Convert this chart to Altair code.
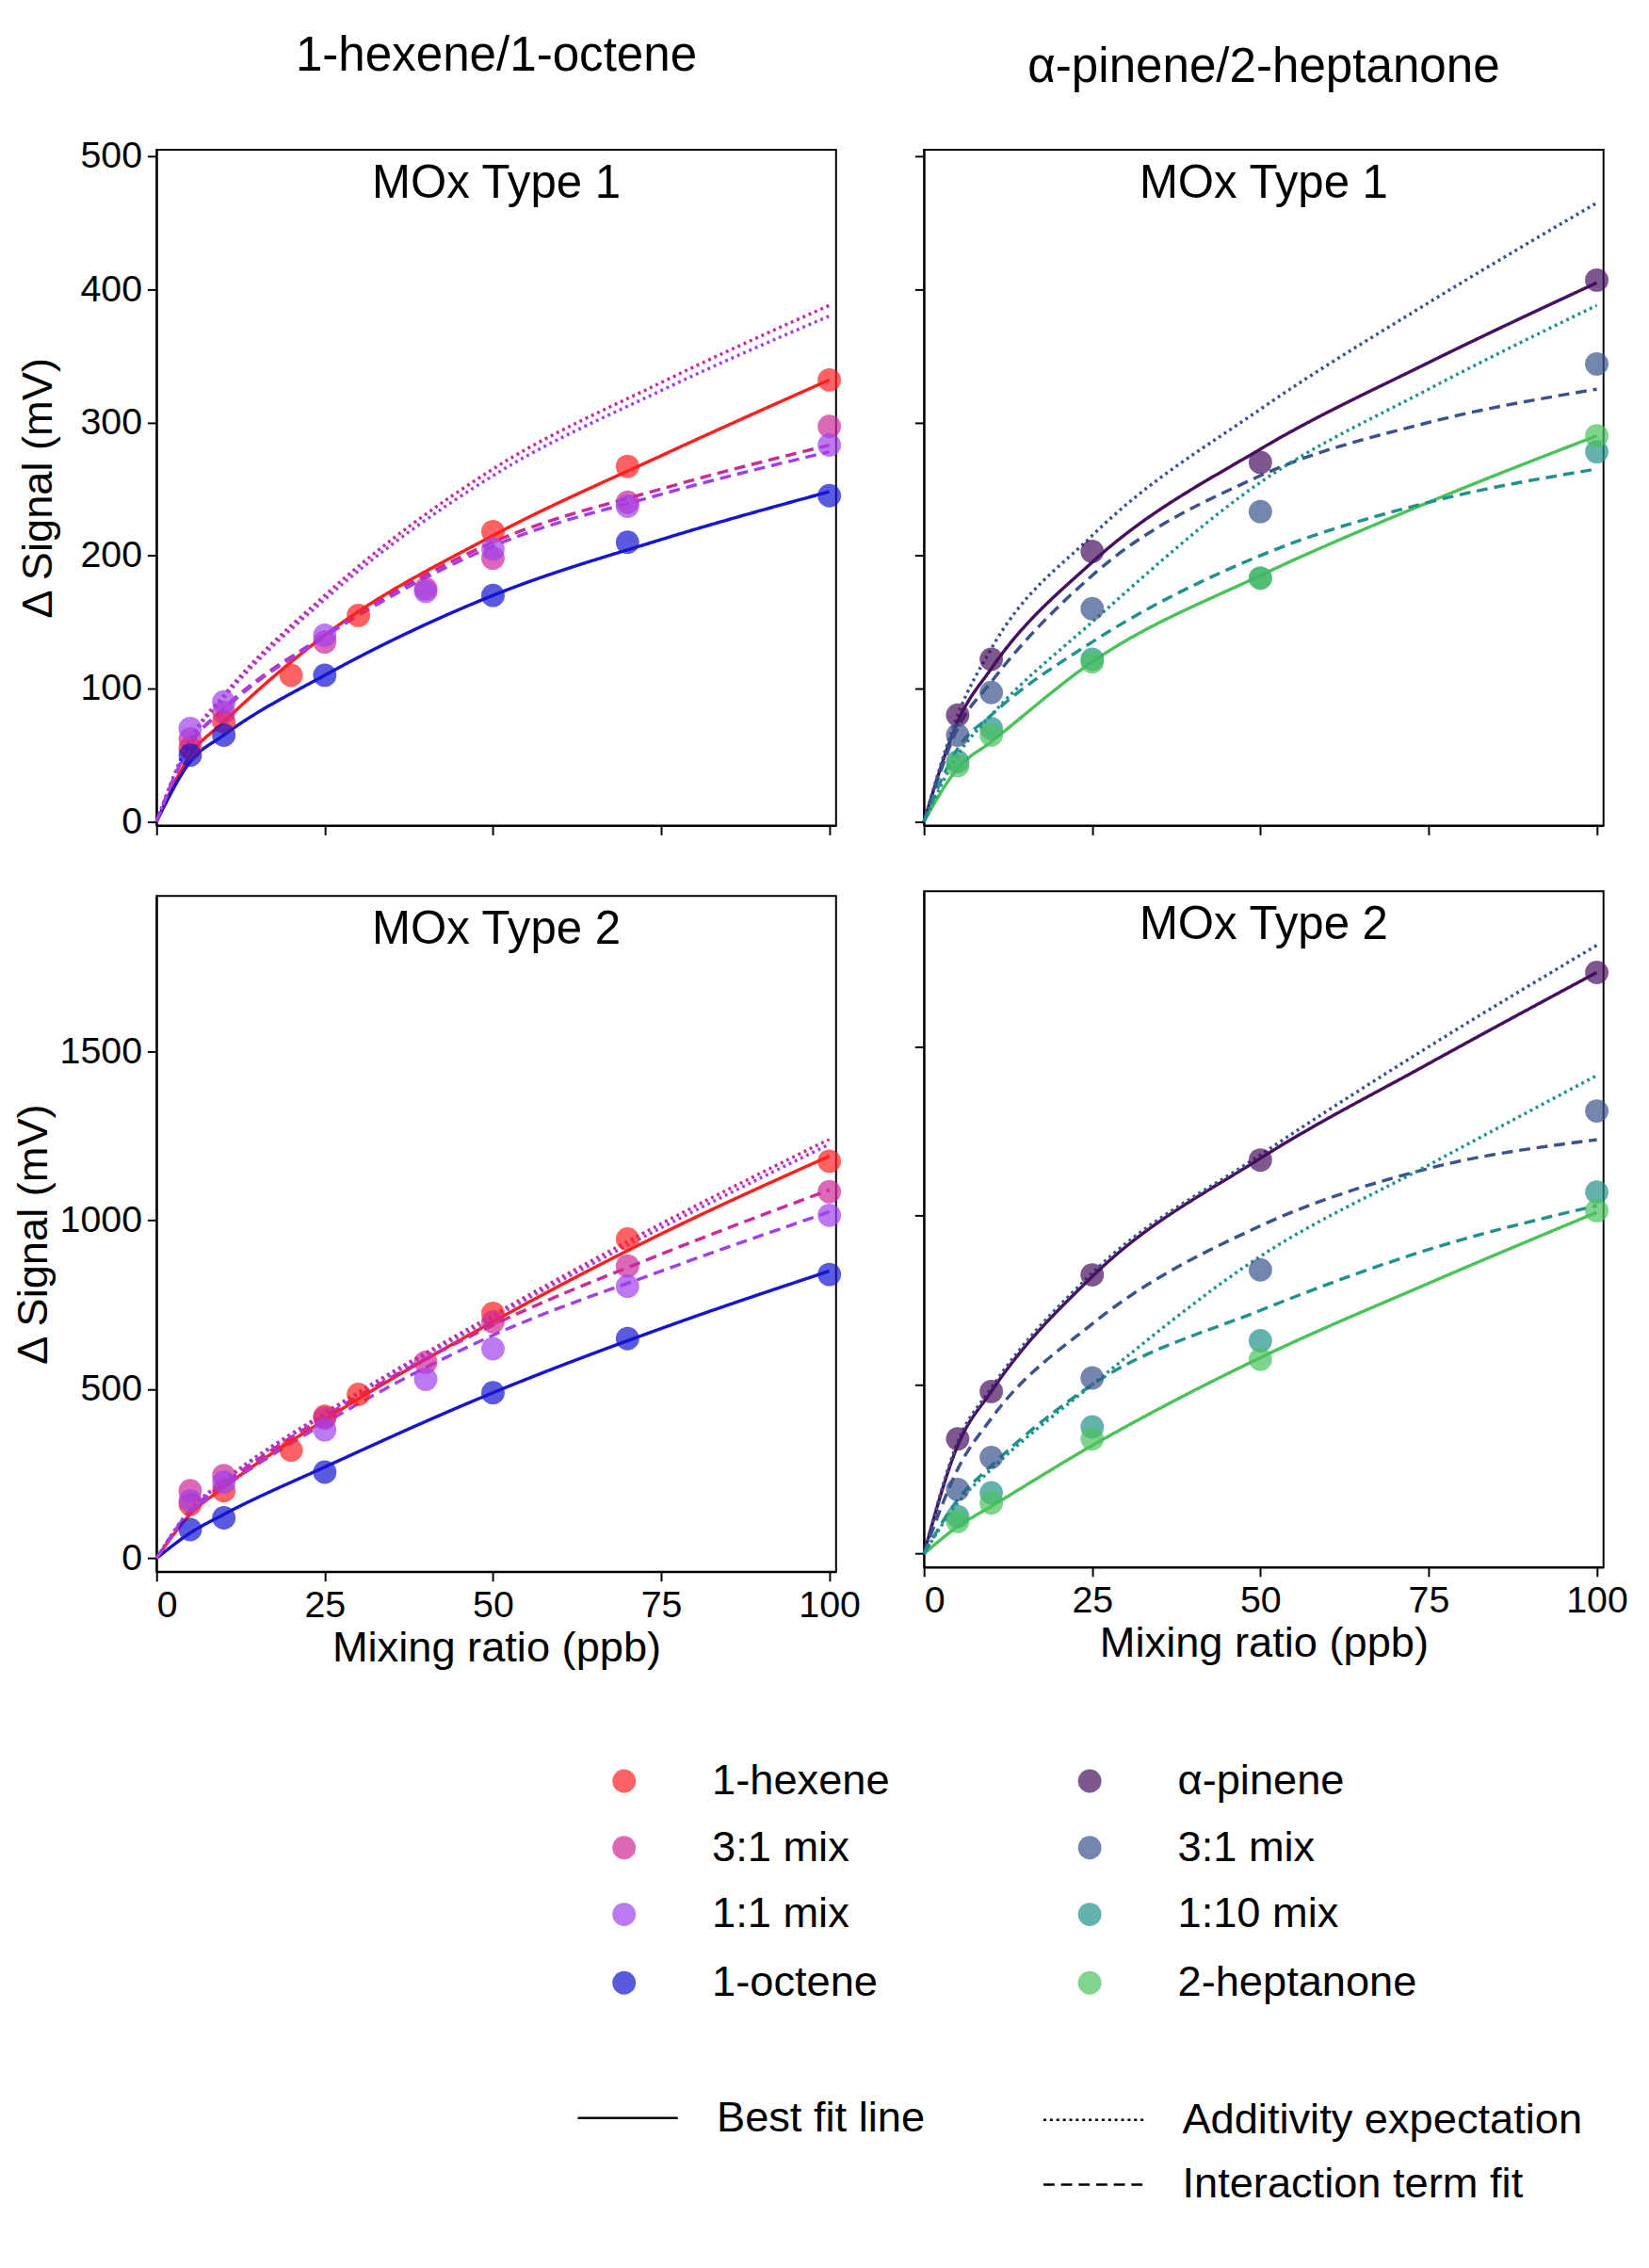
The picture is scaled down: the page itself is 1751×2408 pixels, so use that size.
import altair as alt
import pandas as pd

FONT = 'Liberation Sans'

# ---- series names and colours ----
series_keys = ['hex', 'hex31', 'hex11', 'oct', 'pin', 'pin31', 'pin110', 'hep']
series_labels = ['1-hexene', '3:1 mix', '1:1 mix', '1-octene',
                 'α-pinene', '3:1 mix', '1:10 mix', '2-heptanone']
series_colors = ['#ff1f1f', '#cc2a9a', '#a040ec', '#1414d2',
                 '#46105e', '#3b528b', '#21918c', '#4cc25c']

# ---- measured points (x in ppb, y in mV) ----
tl_pts = {
    'hex':   ([5, 10, 20, 30, 50, 70, 100], [55, 75, 110, 155, 218, 267, 332]),
    'hex31': ([5, 10, 25, 40, 50, 70, 100], [62, 82, 135, 175, 198, 240, 297]),
    'hex11': ([5, 10, 25, 40, 50, 70, 100], [70, 90, 140, 173, 205, 237, 283]),
    'oct':   ([5, 10, 25, 50, 70, 100], [50, 65, 110, 170, 210, 245]),
}
tr_pts = {
    'pin':    ([5, 10, 25, 50, 100], [80, 122, 203, 270, 407]),
    'pin31':  ([5, 10, 25, 50, 100], [65, 97, 160, 233, 344]),
    'pin110': ([5, 10, 25, 50, 100], [45, 70, 122, 183, 278]),
    'hep':    ([5, 10, 25, 50, 100], [42, 65, 120, 183, 290]),
}
bl_pts = {
    'hex':   ([5, 10, 20, 25, 30, 50, 70, 100], [160, 200, 320, 420, 485, 725, 945, 1175]),
    'hex31': ([5, 10, 25, 40, 50, 70, 100], [200, 245, 415, 580, 700, 865, 1085]),
    'hex11': ([5, 10, 25, 40, 50, 70, 100], [170, 225, 380, 530, 620, 805, 1015]),
    'oct':   ([5, 10, 25, 50, 70, 100], [85, 120, 255, 490, 650, 840]),
}
br_pts = {
    'pin':    ([5, 10, 25, 50, 100], [340, 480, 825, 1165, 1720]),
    'pin31':  ([5, 10, 25, 50, 100], [190, 285, 520, 840, 1310]),
    'pin110': ([5, 10, 25, 50, 100], [110, 180, 375, 630, 1070]),
    'hep':    ([5, 10, 25, 50, 100], [95, 150, 340, 575, 1015]),
}

# ---- fitted curves, read at these x values ----
cx = [0, 5, 10, 25, 50, 75, 100]
tl_lines = [
    ('hex', 'solid',    [0, 50, 75, 140, 215, 275, 332]),
    ('oct', 'solid',    [0, 45, 65, 110, 170, 212, 248]),
    ('hex31', 'dashed', [0, 58, 85, 140, 210, 250, 283]),
    ('hex11', 'dashed', [0, 58, 84, 139, 207, 246, 278]),
    ('hex31', 'dotted', [0, 62, 95, 170, 265, 330, 388]),
    ('hex11', 'dotted', [0, 61, 93, 167, 260, 324, 380]),
]
tr_lines = [
    ('pin', 'solid',     [0, 75, 115, 195, 280, 345, 405]),
    ('hep', 'solid',     [0, 40, 60, 120, 185, 240, 290]),
    ('pin31', 'dashed',  [0, 70, 105, 185, 260, 300, 325]),
    ('pin110', 'dashed', [0, 55, 80, 135, 200, 240, 265]),
    ('pin31', 'dotted',  [0, 80, 130, 215, 310, 390, 465]),
    ('pin110', 'dotted', [0, 50, 80, 150, 255, 325, 388]),
]
bl_lines = [
    ('hex', 'solid',    [0, 130, 210, 410, 700, 960, 1190]),
    ('oct', 'solid',    [0, 75, 130, 270, 490, 680, 850]),
    ('hex31', 'dashed', [0, 140, 220, 420, 690, 900, 1090]),
    ('hex11', 'dashed', [0, 135, 210, 400, 660, 850, 1025]),
    ('hex31', 'dotted', [0, 145, 230, 430, 720, 990, 1240]),
    ('hex11', 'dotted', [0, 143, 227, 425, 712, 978, 1225]),
]
br_lines = [
    ('pin', 'solid',     [0, 320, 480, 820, 1170, 1450, 1720]),
    ('hep', 'solid',     [0, 80, 140, 320, 580, 800, 1010]),
    ('pin31', 'dashed',  [0, 250, 400, 680, 970, 1140, 1225]),
    ('pin110', 'dashed', [0, 160, 260, 500, 720, 900, 1030]),
    ('pin31', 'dotted',  [0, 330, 490, 830, 1180, 1500, 1800]),
    ('pin110', 'dotted', [0, 150, 250, 500, 880, 1150, 1415]),
]

color_scale = alt.Scale(domain=series_keys, range=series_colors)
dashes = {'solid': [1, 0], 'dashed': [12, 7], 'dotted': [3, 4]}

PW, PH = 734, 730


def panel(pts, lines, ydom, yticks, inner, show_x, show_y, col_title=None):
    prow = []
    for k, (xs, ys) in pts.items():
        prow += [{'s': k, 'x': a, 'y': b} for a, b in zip(xs, ys)]
    lrow = []
    for k, st, ys in lines:
        lrow += [{'s': k, 'st': st, 'id': k + st, 'x': a, 'y': b} for a, b in zip(cx, ys)]
    pdf, ldf = pd.DataFrame(prow), pd.DataFrame(lrow)

    xenc = alt.X('x:Q', scale=alt.Scale(domain=[0, 101], nice=False),
                 axis=alt.Axis(values=[0, 25, 50, 75, 100], labels=show_x, format='d',
                               title='Mixing ratio (ppb)' if show_x else None))
    yenc = alt.Y('y:Q', scale=alt.Scale(domain=ydom, nice=False),
                 axis=alt.Axis(values=yticks, labels=show_y, format='d',
                               minExtent=100 if show_y else 10,
                               title='Δ Signal (mV)' if show_y else None))
    layers = []
    for st in ['solid', 'dashed', 'dotted']:
        sub = ldf[ldf.st == st]
        layers.append(alt.Chart(sub).mark_line(
            interpolate='monotone', strokeWidth=3.5, strokeDash=dashes[st]
        ).encode(x=xenc, y=yenc, detail='id:N',
                 color=alt.Color('s:N', scale=color_scale, legend=None)))
    layers.append(alt.Chart(pdf).mark_circle(size=640, opacity=0.7).encode(
        x=xenc, y=yenc, color=alt.Color('s:N', scale=color_scale, legend=None)))
    layers.append(alt.Chart(pd.DataFrame({'t': [inner]})).mark_text(
        fontSize=50, font=FONT, baseline='top'
    ).encode(text='t:N', x=alt.value(PW / 2), y=alt.value(12)))
    ch = alt.layer(*layers).properties(width=PW, height=PH)
    if col_title:
        ch = ch.properties(title=alt.Title(col_title, fontSize=52, font=FONT,
                                           fontWeight='normal', offset=10,
                                           baseline='bottom'))
    return ch


tl = panel(tl_pts, tl_lines, [-3, 505], [0, 100, 200, 300, 400, 500], 'MOx Type 1',
           False, True, '1-hexene/1-octene')
tr = panel(tr_pts, tr_lines, [-3, 505], [0, 100, 200, 300, 400, 500], 'MOx Type 1',
           False, False, 'α-pinene/2-heptanone')
bl = panel(bl_pts, bl_lines, [-40, 1960], [0, 500, 1000, 1500], 'MOx Type 2', True, True)
br = panel(br_pts, br_lines, [-40, 1960], [0, 500, 1000, 1500], 'MOx Type 2', True, False)

# ---- hand-made legend ----
leg_col = [0, 0, 0, 0, 1, 1, 1, 1]
leg_row = [0, 1, 2, 3, 0, 1, 2, 3]
LW, LH = 1600, 560
col_x = [505, 1008]
row_y = [80, 152, 224, 298]
ldf = pd.DataFrame({'s': series_keys, 'label': series_labels,
                    'px': [col_x[c] for c in leg_col],
                    'py': [row_y[r] for r in leg_row]})
lx = alt.Scale(domain=[0, LW], nice=False)
ly = alt.Scale(domain=[0, LH], nice=False, reverse=True)
leg_pts = alt.Chart(ldf).mark_circle(size=640, opacity=0.7).encode(
    x=alt.X('px:Q', scale=lx, axis=None), y=alt.Y('py:Q', scale=ly, axis=None),
    color=alt.Color('s:N', scale=color_scale, legend=None))
leg_txt = alt.Chart(ldf).mark_text(align='left', fontSize=46, font=FONT, dx=95).encode(
    x=alt.X('px:Q', scale=lx, axis=None), y=alt.Y('py:Q', scale=ly, axis=None),
    text='label:N')

style_names = ['Best fit line', 'Additivity expectation', 'Interaction term fit']
style_keys = ['solid', 'dotted', 'dashed']
sx0 = [455, 958, 958]
sy = [444, 446, 516]
sdf = pd.DataFrame({'st': style_keys, 'label': style_names, 'x0': sx0,
                    'x1': [v + 108 for v in sx0], 'tx': [v + 150 for v in sx0], 'py': sy})
leg_lines = [alt.Chart(sdf[sdf.st == st]).mark_rule(
    color='black', strokeWidth=2.5, strokeDash=dashes[st]).encode(
    x=alt.X('x0:Q', scale=lx, axis=None), x2='x1:Q',
    y=alt.Y('py:Q', scale=ly, axis=None)) for st in style_keys]
leg_lt = alt.Chart(sdf).mark_text(align='left', fontSize=46, font=FONT).encode(
    x=alt.X('tx:Q', scale=lx, axis=None), y=alt.Y('py:Q', scale=ly, axis=None),
    text='label:N')
legend = alt.layer(leg_pts, leg_txt, *leg_lines, leg_lt).properties(
    width=LW, height=LH, view=alt.ViewConfig(stroke=None))

left = alt.vconcat(tl, bl, spacing=58)
right = alt.vconcat(tr, br, spacing=58)
plots = alt.hconcat(left, right, spacing=55)

chart = alt.vconcat(plots, legend, spacing=40).configure(
    font=FONT, padding=4
).configure_view(stroke='black', strokeWidth=2).configure_axis(
    grid=False, domainColor='black', domainWidth=2, tickColor='black', tickWidth=2,
    tickSize=10, labelFontSize=40, titleFontSize=46, titleFontWeight='normal',
    labelColor='black', titleColor='black', labelFont=FONT, titleFont=FONT, labelPadding=6
)

chart.save('out.html', embed_options={'renderer': 'svg', 'actions': False})
